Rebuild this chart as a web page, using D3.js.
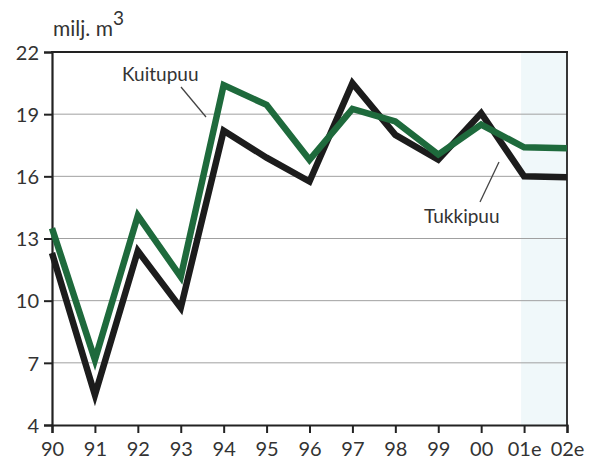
<!DOCTYPE html>
<html><head><meta charset="utf-8">
<script src="https://cdn.jsdelivr.net/npm/d3@7"></script>
<style>body{margin:0;background:#fff}svg{display:block}text{font-family:Lato,"DejaVu Sans",sans-serif;fill:#333}</style>
</head><body><svg id="c" width="597" height="465"></svg>
<script>
const years = ["90","91","92","93","94","95","96","97","98","99","00","01e","02e"];
const tukkipuu = [12.3,5.45,12.4,9.65,18.2,16.9,15.75,20.5,18.0,16.8,19.05,16.0,15.95];
const kuitupuu = [13.5,7.15,14.1,11.15,20.4,19.45,16.8,19.25,18.65,17.05,18.5,17.4,17.35];
const yTicks = [4,7,10,13,16,19,22];
const forecastFrom = "01e";

const svg = d3.select("#c");
const L=52,R=567,T=52,B=425;
const x = d3.scalePoint().domain(years).range([L,R]);
const y = d3.scaleLinear().domain([4,22]).range([B,T]);

svg.append("rect").attr("x",x(forecastFrom)-3).attr("y",T).attr("width",R-x(forecastFrom)+3).attr("height",B-T).attr("fill","#f0f8fa");

svg.append("g").selectAll("line").data(yTicks.filter(d=>d>4&&d<22)).join("line")
  .attr("x1",L).attr("x2",R).attr("y1",d=>y(d)).attr("y2",d=>y(d))
  .attr("stroke","#a0a0a0").attr("stroke-width",1);

const ya = svg.append("g").attr("transform",`translate(${L},0)`)
  .call(d3.axisLeft(y).tickValues(yTicks).tickSize(8).tickPadding(5));
ya.select(".domain").attr("stroke","#222").attr("stroke-width",2.2);
ya.selectAll(".tick line").attr("stroke","#222").attr("stroke-width",2);
ya.selectAll("text").style("font-size","20px").attr("fill","#3a3a3a").attr("dy","0.36em");

const xa = svg.append("g").attr("transform",`translate(0,${B})`)
  .call(d3.axisBottom(x).tickSize(8).tickPadding(9));
xa.select(".domain").attr("stroke","#222").attr("stroke-width",2.2);
xa.selectAll(".tick line").attr("stroke","#222").attr("stroke-width",2);
xa.selectAll("text").style("font-size","20px").attr("fill","#3a3a3a");

svg.append("line").attr("x1",L-1).attr("x2",R+1).attr("y1",T).attr("y2",T).attr("stroke","#222").attr("stroke-width",2.2);
svg.append("line").attr("x1",R).attr("x2",R).attr("y1",T).attr("y2",B).attr("stroke","#222").attr("stroke-width",1.8);

const line = d3.line().x((d,i)=>x(years[i])).y(d=>y(d));
svg.append("path").datum(tukkipuu).attr("d",line).attr("fill","none").attr("stroke","#1c1c1c").attr("stroke-width",6.5).attr("stroke-linejoin","miter");
svg.append("path").datum(kuitupuu).attr("d",line).attr("fill","none").attr("stroke","#1e6a3c").attr("stroke-width",6.5).attr("stroke-linejoin","miter");

svg.append("text").attr("x",122).attr("y",81).style("font-size","19px").attr("fill","#3a3a3a").text("Kuitupuu");
svg.append("line").attr("x1",181).attr("y1",87).attr("x2",206).attr("y2",117).attr("stroke","#444").attr("stroke-width",1.3);
svg.append("text").attr("x",424).attr("y",223).style("font-size","19px").attr("fill","#3a3a3a").text("Tukkipuu");
svg.append("line").attr("x1",499).attr("y1",162).attr("x2",480).attr("y2",202).attr("stroke","#444").attr("stroke-width",1.3);

const u = svg.append("text").attr("x",53).attr("y",36).style("font-size","21px").attr("fill","#3a3a3a");
u.append("tspan").text("milj. m");
u.append("tspan").attr("dy",-11).style("font-size","19px").text("3");
</script></body></html>
